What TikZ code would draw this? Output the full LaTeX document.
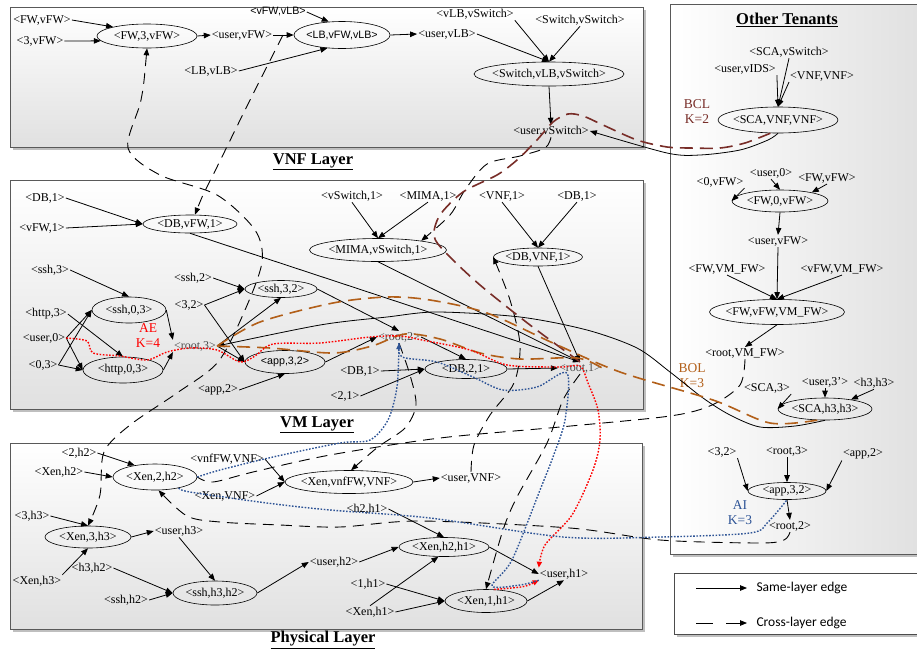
\documentclass[tikz,border=0pt]{standalone}
\usepackage{fontspec}
\setmainfont{Liberation Serif}
\newfontfamily\lsans{Liberation Sans}
\newfontfamily\carl{Carlito}
\usetikzlibrary{shapes.geometric,arrows.meta}
\newcommand{\zbx}[1]{\makebox[0pt]{#1}}
\definecolor{aered}{RGB}{255,0,0}
\definecolor{aiblue}{RGB}{46,84,150}
\definecolor{bclbrown}{RGB}{120,45,40}
\definecolor{bolbrown}{RGB}{178,95,25}
\tikzset{
 lbl/.style={inner sep=1pt, font=\fontsize{12}{13}\selectfont},
 glbl/.style={lbl, text=black!70},
 ell/.style={draw, ellipse, inner sep=0pt, line width=0.6pt, font=\fontsize{12}{13}\selectfont},
 sf/.style={font=\lsans\fontsize{10.7}{12}\selectfont},
 edge/.style={line width=0.8pt, -{Triangle[length=7pt,width=5.5pt]}},
 xedge/.style={line width=0.9pt, dash pattern=on 11pt off 7pt, -{Triangle[length=7pt,width=5.5pt]}},
 xline/.style={line width=0.9pt, dash pattern=on 11pt off 7pt},
 layer/.style={draw=black!65, line width=0.9pt, top color=white, bottom color=black!12},
 title/.style={font=\bfseries\fontsize{16.5}{18}\selectfont},
 redpath/.style={aered, line width=1.4pt, dash pattern=on 1.6pt off 1.6pt},
 bluepath/.style={aiblue, line width=1.4pt, dash pattern=on 1.6pt off 1.6pt},
 bclpath/.style={bclbrown, line width=1.6pt, dash pattern=on 13pt off 7pt},
 bolpath/.style={bolbrown, line width=1.6pt, dash pattern=on 13pt off 7pt},
 klbl/.style={font=\fontsize{13.5}{15}\selectfont, align=center, inner sep=0pt},
}
\begin{document}
\begin{tikzpicture}[x=1pt,y=-1pt]
\useasboundingbox (0,0) rectangle (917,654);
% ---------- boxes ----------
\fill[black!25] (13,10) rectangle (646,150);
\draw[layer] (10,7) rectangle (643,147);
\fill[black!25] (13,183) rectangle (646,412);
\draw[layer] (10,180) rectangle (643,409);
\fill[black!25] (13,446) rectangle (645,632);
\draw[layer] (10,443) rectangle (642,629);
\fill[black!25] (673,7) rectangle (925,557);
\draw[draw=black!65, line width=0.9pt, left color=white, right color=black!12] (670,4) rectangle (922,554);
\fill[black!25] (677,576) rectangle (925,637);
\draw[draw=black!70, line width=1pt, fill=white] (674,573) rectangle (922,634);

\node[title] (tvnf) at (313,162) {\underline{VNF Layer}};
\node[title] (tvm) at (317,425) {\underline{VM Layer}};
\node[title] (tphy) at (323,640) {\underline{Physical Layer}};
\node[title] (tot) at (787,20) {\underline{Other Tenants}};

% ---------- legend ----------
\coordinate (lg1a) at (696,588); \coordinate (lg1b) at (747,588);
\coordinate (lg2a) at (696,623); \coordinate (lg2b) at (747,623);
\draw[edge] (lg1a) -- (lg1b);
\draw[line width=0.8pt, dash pattern=on 17pt off 13pt, -{Triangle[length=7pt,width=5.5pt]}] (lg2a) -- (lg2b);
\node[anchor=west, font=\carl\fontsize{13.5}{15}\selectfont] (lgt1) at (753,588) {Same-layer edge};
\node[anchor=west, font=\carl\fontsize{13.5}{15}\selectfont] (lgt2) at (753,623) {Cross-layer edge};

% ---------- VNF layer ----------
\node[lbl] (t_fwvfw) at (42,20) {<FW,vFW>};
\node[lbl] (t_3vfw) at (40,41) {<3,vFW>};
\node[ell, minimum width=100pt, minimum height=24pt] (e_fw3) at (147,36) {\zbx{<FW,3,vFW>}};
\node[lbl] (t_uservfw) at (242,35) {<user,vFW>};
\node[lbl, sf] (t_vfwvlb) at (278,12) {<vFW,vLB>};
\node[ell, sf, minimum width=96pt, minimum height=27pt] (e_lb) at (342,35) {\zbx{<LB,vFW,vLB>}};
\node[lbl] (t_lbvlb) at (211,71) {<LB,vLB>};
\node[lbl] (t_uservlb) at (447,34) {<user,vLB>};
\node[lbl] (t_vlbvsw) at (475,14) {<vLB,vSwitch>};
\node[lbl] (t_swvsw) at (580,20) {<Switch,vSwitch>};
\node[ell, minimum width=150pt, minimum height=24pt] (e_sw) at (549,74) {\zbx{<Switch,vLB,vSwitch>}};
\node[lbl] (t_uservsw) at (551,131) {<user,vSwitch>};

\draw[edge] (t_fwvfw.east) -- (e_fw3.165);
\draw[edge] (t_3vfw.east) -- (e_fw3.186);
\draw[edge] (e_fw3.east) -- (t_uservfw.west);
\draw[edge] (t_uservfw.east) -- (e_lb.west);
\draw[edge] (t_vfwvlb.east) -- (e_lb.135);
\draw[edge] (t_lbvlb.east) -- (e_lb.222);
\draw[edge] (e_lb.east) -- (t_uservlb.west);
\draw[edge] (t_uservlb.east) -- (e_sw.north);
\draw[edge] (t_vlbvsw.south east) -- (e_sw.north);
\draw[edge] (t_swvsw.south) -- (e_sw.north);
\draw[edge] (e_sw.south) -- (t_uservsw.north);

% ---------- Other tenants ----------
\node[lbl] (t_scavsw) at (789,52) {<SCA,vSwitch>};
\node[lbl] (t_uservids) at (745,69) {<user,vIDS>};
\node[lbl] (t_vnfvnf) at (822,76) {<VNF,VNF>};
\node[ell, minimum width=120pt, minimum height=26pt] (e_sca) at (778,120) {\zbx{<SCA,VNF,VNF>}};
\node[klbl, text=bclbrown] (k_bcl) at (697,112) {BCL\\K=2};
\node[lbl] (t_0vfw) at (720,182) {<0,vFW>};
\node[lbl] (t_user0b) at (771,173) {<user,0>};
\node[lbl] (t_fwvfwb) at (827,178) {<FW,vFW>};
\node[ell, minimum width=96pt, minimum height=22pt] (e_fw0) at (780,201) {\zbx{<FW,0,vFW>}};
\node[lbl] (t_uservfwb) at (778,241) {<user,vFW>};
\node[lbl] (t_fwvmfw) at (727,269) {<FW,VM\_FW>};
\node[lbl] (t_vfwvmfw) at (842,269) {<vFW,VM\_FW>};
\node[ell, minimum width=135pt, minimum height=25pt] (e_fwvfwvm) at (777,312) {\zbx{<FW,vFW,VM\_FW>}};
\node[lbl] (t_rootvmfw) at (745,353) {<root,VM\_FW>};
\node[klbl, text=bolbrown] (k_bol) at (692,376) {BOL\\K=3};
\node[lbl] (t_sca3) at (767,388) {<SCA,3>};
\node[lbl] (t_user3p) at (825,382) {<user,3'>};
\node[lbl] (t_h3h3) at (874,383) {<h3,h3>};
\node[ell, minimum width=94pt, minimum height=22pt] (e_scah3) at (825,409) {\zbx{<SCA,h3,h3>}};
\node[lbl] (t_32b) at (722,452) {<3,2>};
\node[lbl] (t_root3b) at (787,451) {<root,3>};
\node[lbl] (t_app2b) at (863,454) {<app,2>};
\node[ell, minimum width=78pt, minimum height=17pt] (e_app32b) at (787,491) {\zbx{<app,3,2>}};
\node[lbl] (t_root2b) at (790,526) {<root,2>};
\node[klbl, text=aiblue] (k_ai) at (740,513) {AI\\K=3};

\draw[edge] (t_uservids.south east) -- (e_sca.north);
\draw[edge] (t_scavsw.south) -- (e_sca.north);
\draw[edge] (t_vnfvnf.south west) -- (e_sca.north);
\draw[edge] (t_0vfw.south east) -- (e_fw0.west);
\draw[edge] (t_user0b.south) -- (e_fw0.north);
\draw[edge] (t_fwvfwb.south) -- (e_fw0.15);
\draw[edge] (e_fw0.south) -- (t_uservfwb.north);
\draw[edge] (t_uservfwb.south) -- (e_fwvfwvm.north);
\draw[edge] (t_fwvmfw.south) -- (e_fwvfwvm.north);
\draw[edge] (t_vfwvmfw.south) -- (e_fwvfwvm.north);
\draw[edge] (e_fwvfwvm.south) -- (t_rootvmfw.north);
\draw[edge] (t_sca3.south east) -- (e_scah3.west);
\draw[edge] (t_user3p.south) -- (e_scah3.north);
\draw[edge] (t_h3h3.south) -- (e_scah3.20);
\draw[edge] (t_32b.south east) -- (e_app32b.west);
\draw[edge] (t_root3b.south) -- (e_app32b.north);
\draw[edge] (t_app2b.south west) -- (e_app32b.east);
\draw[edge] (e_app32b.south) -- (t_root2b.north);

% ---------- VM layer ----------
\node[lbl] (t_db1a) at (45,198) {<DB,1>};
\node[lbl] (t_vfw1) at (42,228) {<vFW,1>};
\node[ell, minimum width=94pt, minimum height=18pt] (e_dbvfw1) at (190,224) {\zbx{<DB,vFW,1>}};
\node[lbl] (t_ssh3) at (50,270) {<ssh,3>};
\node[lbl] (t_http3) at (46,314) {<http,3>};
\node[lbl] (t_user0) at (44,338) {<user,0>};
\node[lbl] (t_03) at (43,365) {<0,3>};
\node[ell, minimum width=74pt, minimum height=26pt] (e_ssh03) at (129,310) {\zbx{<ssh,0,3>}};
\node[ell, minimum width=80pt, minimum height=26pt] (e_http03) at (123,370) {\zbx{<http,0,3>}};
\node[glbl] (t_root3) at (195,346) {<root,3>};
\node[klbl, text=aered] (k_ae) at (148,336) {AE\\K=4};
\node[lbl] (t_ssh2) at (193,278) {<ssh,2>};
\node[lbl] (t_32) at (189,305) {<3,2>};
\node[ell, minimum width=72pt, minimum height=17pt] (e_ssh32) at (281,289) {\zbx{<ssh,3,2>}};
\node[ell, sf, minimum width=80pt, minimum height=23pt] (e_app32) at (285,362) {\zbx{<app,3,2>}};
\node[lbl] (t_app2) at (218,390) {<app,2>};
\node[glbl] (t_root2) at (399,337) {<root,2>};
\node[lbl] (t_db1b) at (360,371) {<DB,1>};
\node[lbl] (t_21) at (345,396) {<2,1>};
\node[ell, minimum width=82pt, minimum height=19pt] (e_db21) at (466,369) {\zbx{<DB,2,1>}};
\node[glbl] (t_root1) at (580,368) {<root,1>};
\node[lbl] (t_vsw1) at (352,196) {<vSwitch,1>};
\node[lbl] (t_mima1) at (428,196) {<MIMA,1>};
\node[ell, minimum width=137pt, minimum height=23pt] (e_mima) at (378,250) {\zbx{<MIMA,vSwitch,1>}};
\node[lbl] (t_vnf1) at (502,196) {<VNF,1>};
\node[lbl] (t_db1c) at (577,196) {<DB,1>};
\node[ell, minimum width=89pt, minimum height=18pt] (e_dbvnf1) at (538,257) {\zbx{<DB,VNF,1>}};

\draw[edge] (t_db1a.east) -- (e_dbvfw1.west);
\draw[edge] (t_vfw1.east) -- (e_dbvfw1.west);
\draw[edge] (t_ssh3.east) -- (e_ssh03.north);
\draw[edge] (t_http3.east) -- (e_http03.north);
\draw[edge] (t_user0.east) -- (e_ssh03.west);
\draw[edge] (t_user0.east) -- (e_http03.west);
\draw[edge] (t_03.east) -- (e_ssh03.west);
\draw[edge] (t_03.east) -- (e_http03.west);
\draw[edge] (e_ssh03.east) -- (t_root3.north west);
\draw[edge] (e_http03.east) -- (t_root3.south west);
\draw[edge] (t_ssh2.east) -- (e_ssh32.west);
\draw[edge] (t_32.east) -- (e_ssh32.west);
\draw[edge] (t_32.east) -- (e_app32.west);
\draw[edge] (t_root3.east) -- (e_ssh32.south);
\draw[edge] (t_root3.east) -- (e_app32.west);
\draw[edge] (t_app2.east) -- (e_app32.south);
\draw[edge] (e_ssh32.east) -- (t_root2.north);
\draw[edge] (e_app32.east) -- (t_root2.west);
\draw[edge] (t_root2.east) -- (e_db21.north);
\draw[edge] (t_db1b.east) -- (e_db21.west);
\draw[edge] (t_21.east) -- (e_db21.west);
\draw[edge] (e_db21.east) -- (t_root1.west);
\draw[edge] (t_vsw1.south) -- (e_mima.north);
\draw[edge] (t_mima1.south) -- (e_mima.north);
\draw[edge] (t_vnf1.south) -- (e_dbvnf1.north);
\draw[edge] (t_db1c.south) -- (e_dbvnf1.north);
\draw[edge] (e_dbvfw1.south) -- (t_root1.north);
\draw[edge] (e_mima.south) -- (t_root1.north);
\draw[edge] (e_dbvnf1.south) -- (t_root1.north);

% ---------- Physical layer ----------
\node[lbl] (t_2h2) at (79,453) {<2,h2>};
\node[lbl] (t_xenh2) at (59,472) {<Xen,h2>};
\node[ell, minimum width=84pt, minimum height=26pt] (e_xen2h2) at (155,477) {\zbx{<Xen,2,h2>}};
\node[lbl] (t_3h3) at (32,516) {<3,h3>};
\node[ell, minimum width=86pt, minimum height=22pt] (e_xen3h3) at (88,537) {\zbx{<Xen,3,h3>}};
\node[lbl] (t_xenh3) at (37,581) {<Xen,h3>};
\node[lbl] (t_userh3) at (179,531) {<user,h3>};
\node[lbl] (t_h3h2) at (92,568) {<h3,h2>};
\node[lbl] (t_sshh2) at (126,600) {<ssh,h2>};
\node[ell, minimum width=84pt, minimum height=24pt] (e_sshh3h2) at (215,593) {\zbx{<ssh,h3,h2>}};
\node[lbl] (t_userh2) at (334,562) {<user,h2>};
\node[lbl] (t_vnffwvnf) at (227,459) {<vnfFW,VNF>};
\node[lbl] (t_xenvnf) at (225,496) {<Xen,VNF>};
\node[ell, minimum width=128pt, minimum height=23pt] (e_xenvnffw) at (349,482) {\zbx{<Xen,vnfFW,VNF>}};
\node[lbl] (t_uservnf) at (471,478) {<user,VNF>};
\node[lbl] (t_h2h1) at (367,509) {<h2,h1>};
\node[ell, minimum width=90pt, minimum height=19pt] (e_xenh2h1) at (444,547) {\zbx{<Xen,h2,h1>}};
\node[lbl] (t_1h1) at (368,584) {<1,h1>};
\node[lbl] (t_xenh1) at (370,612) {<Xen,h1>};
\node[ell, minimum width=82pt, minimum height=23pt] (e_xen1h1) at (486,601) {\zbx{<Xen,1,h1>}};
\node[lbl] (t_userh1) at (564,574) {<user,h1>};

\draw[edge] (t_2h2.east) -- (e_xen2h2.150);
\draw[edge] (t_xenh2.east) -- (e_xen2h2.west);
\draw[edge] (t_3h3.east) -- (e_xen3h3.north);
\draw[edge] (t_xenh3.north east) -- (e_xen3h3.south);
\draw[edge] (e_xen3h3.east) -- (t_userh3.west);
\draw[edge] (t_userh3.south) -- (e_sshh3h2.north);
\draw[edge] (t_h3h2.east) -- (e_sshh3h2.west);
\draw[edge] (t_sshh2.east) -- (e_sshh3h2.west);
\draw[edge] (e_sshh3h2.east) -- (t_userh2.west);
\draw[edge] (t_vnffwvnf.east) -- (e_xenvnffw.west);
\draw[edge] (t_xenvnf.east) -- (e_xenvnffw.west);
\draw[edge] (e_xenvnffw.east) -- (t_uservnf.west);
\draw[edge] (t_h2h1.east) -- (e_xenh2h1.north);
\draw[edge] (t_userh2.east) -- (e_xenh2h1.west);
\draw[edge] (t_xenh1.north) -- (e_xenh2h1.240);
\draw[edge] (t_1h1.east) -- (e_xen1h1.west);
\draw[edge] (t_xenh1.east) -- (e_xen1h1.west);
\draw[edge] (e_xenh2h1.east) -- (t_userh1.west);
\draw[edge] (e_xen1h1.east) -- (t_userh1.south);

% ---------- long solid edges ----------
\draw[edge] plot[smooth] coordinates {(e_sca.south) (768,140) (740,150) (700,155) (667,153) (t_uservsw.east)};
\draw[edge] plot[smooth] coordinates {(e_scah3.south) (795,426) (760,427) (730,415) (703,398) (670,372) (637,348) (587,330) (520,317) (437,312) (387,317) (320,325) (t_root3.east)};

% ---------- cross-layer dashed edges ----------
\coordinate (c_uv) at (283,35);
\draw[xline, {Triangle[length=7pt,width=5.5pt]}-{Triangle[length=7pt,width=5.5pt]}] plot[smooth] coordinates {(e_fw3.south) (141,100) (128,148) (160,175) (217,195) (255,230) (262,262) (245,310) (218,362) (177,393) (130,425) (104,452) (100,495) (e_xen3h3.north)};
\draw[xedge] plot[smooth] coordinates {(c_uv) (250,100) (217,167) (203,195) ([xshift=5pt]e_dbvfw1.north)};
\draw[xedge] plot[smooth] coordinates {(t_uservsw.south) (545,148) (520,156) (487,164) (465,190) (450,215) (e_mima.12)};
\draw[xedge] plot[smooth] coordinates {(t_uservnf.north) (474,445) (490,415) (514,383) (520,345) (510,300) (e_dbvnf1.west)};
\draw[xedge] plot[smooth] coordinates {(t_root1.south) (563,400) (547,443) (517,497) (503,530) (e_xen1h1.north)};
\draw[xedge] plot[smooth] coordinates {(t_root2.south) (410,375) (416,405) (405,428) (378,447) (e_xenvnffw.80)};
\draw[xline] plot[smooth] coordinates {(t_rootvmfw.south) (740,385) (712,405) (670,416) (560,427) (440,438) (330,455) (253,472) (213,482) (e_xen2h2.east)};
\draw[xedge] plot[smooth] coordinates {(t_root2b.south) (784,540) (760,543) (660,540) (570,528) (420,521) (340,527) (280,525) (220,522) (187,516) (e_xen2h2.285)};

% ---------- BCL / BOL / AE / AI paths ----------
\draw[bclpath] plot[smooth] coordinates {(e_sca.240) (745,143) (720,148) (690,148) (667,147) (637,140) (603,125) (583,116) (568,114) (553,122) (537,140) (517,160) (497,175) (463,192) (440,215) (434,236) (446,253) (480,285) (530,325) (t_root1.north)};
\draw[bolpath] plot[smooth] coordinates {(t_root3.east) (260,322) (333,303) (387,297) (430,300) (487,313) (553,343) (620,372) (713,400) (770,423) (e_scah3.235)};
\draw[bolpath] plot[smooth] coordinates {(t_root3.east) (270,348) (333,353) (372,346) (405,334) (440,339) (480,353) (520,359) (577,358) (t_root1.east)};
\draw[redpath, -{Triangle[length=6pt,width=5pt]}] plot[smooth] coordinates {(t_user0.east) (87,341) (93,353) (120,356) (147,360) (167,352) (190,348) (217,350) (240,362) (255,356) (273,344) (320,343) (370,337) (400,336) (422,340) (470,350) (507,365) (560,367) (580,366) (588,383) (598,410) (600,440) (593,470) (572,515) (545,545) (t_userh1.north west)};
\draw[redpath, -{Triangle[length=6pt,width=5pt]}] (e_xen1h1.55) .. controls (525,587) .. (t_userh1.south west);
\draw[bluepath, -{Triangle[length=6pt,width=5pt]}] plot[smooth] coordinates {(e_xen2h2.east) (220,470) (273,457) (340,443) (370,440) (388,420) (397,387) (t_root2.south)};
\draw[bluepath] plot[smooth] coordinates {(t_root2.south) (402,357) (437,362) (473,377) (503,390) (537,387) (567,373) (565,420) (553,457) (540,490) (512,560) (492,586) (520,585) (t_userh1.south west)};
\draw[bluepath] plot[smooth] coordinates {(e_xen2h2.335) (190,492) (267,503) (330,510) (430,518) (563,537) (660,537) (750,533) (768,522) (e_app32b.south)};
\end{tikzpicture}
\end{document}
